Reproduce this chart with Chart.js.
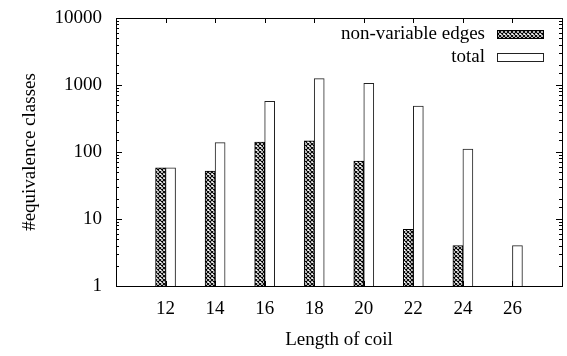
<!DOCTYPE html>
<html>
<head>
<meta charset="utf-8">
<script src="https://cdn.jsdelivr.net/npm/chart.js@4/dist/chart.umd.min.js"></script>
<style>
html,body{margin:0;padding:0;background:#fff;}
#wrap{width:567px;height:356px;position:relative;}
</style>
</head>
<body>
<div id="wrap"><canvas id="c" width="567" height="356"></canvas></div>
<script>
// ---- data ----
const coilLengths = [12, 14, 16, 18, 20, 22, 24, 26];
const nonVariableEdges = [58, 52, 141, 147, 73, 7, 4, 1];
const totalClasses = [58, 138, 571, 1242, 1060, 486, 111, 4];
const yTickValues = [1, 10, 100, 1000, 10000];
const seriesNames = ['non-variable edges', 'total'];
const xTitle = 'Length of coil';
const yTitle = '#equivalence classes';

// padded category axis (10 .. 28) so that 12..26 sit like the original
const labels = ['10'].concat(coilLengths.map(String), ['28']);
const pad = arr => [null].concat(arr, [null]);

// crosshatch pattern
function makeHatch() {
  const c = document.createElement('canvas');
  c.width = 4; c.height = 4;
  const g = c.getContext('2d');
  g.fillStyle = '#fff';
  g.fillRect(0, 0, 4, 4);
  g.strokeStyle = '#000';
  g.lineWidth = 1.1;
  g.beginPath();
  for (let o = -4; o <= 4; o += 4) {
    g.moveTo(o, 0); g.lineTo(o + 4, 4);
    g.moveTo(o + 4, 0); g.lineTo(o, 4);
  }
  g.stroke();
  return document.getElementById('c').getContext('2d').createPattern(c, 'repeat');
}
const hatch = makeHatch();

const FONT = 'Liberation Serif, Times New Roman, serif';
const FS = 19;

const framePlugin = {
  id: 'frame',
  afterDraw(chart) {
    const ctx = chart.ctx;
    const a = chart.chartArea;
    const xs = chart.scales.x, ys = chart.scales.y;
    ctx.save();
    ctx.strokeStyle = '#000';
    ctx.lineWidth = 1;
    ctx.beginPath();
    // y ticks (inward, mirrored)
    ys.ticks.forEach(t => {
      const v = t.value;
      const lg = Math.log10(v);
      const major = Math.abs(lg - Math.round(lg)) < 1e-9;
      const len = major ? 6 : 3;
      const py = Math.round(ys.getPixelForValue(v)) + 0.5;
      ctx.moveTo(a.left, py); ctx.lineTo(a.left + len, py);
      ctx.moveTo(a.right, py); ctx.lineTo(a.right - len, py);
    });
    // x ticks (inward, mirrored)
    for (let i = 1; i <= coilLengths.length; i++) {
      const px = Math.round(xs.getPixelForValue(i)) + 0.5;
      ctx.moveTo(px, a.bottom); ctx.lineTo(px, a.bottom - 5);
      ctx.moveTo(px, a.top); ctx.lineTo(px, a.top + 5);
    }
    ctx.stroke();
    ctx.strokeRect(Math.round(a.left) + 0.5, Math.round(a.top) + 0.5,
                   Math.round(a.right - a.left), Math.round(a.bottom - a.top));
    // legend (gnuplot style: text right-aligned, sample to the right)
    ctx.font = FS + 'px ' + FONT;
    ctx.textAlign = 'right';
    ctx.textBaseline = 'middle';
    const boxR = a.right - 19, boxW = 46, boxH = 8;
    chart.data.datasets.forEach((ds, i) => {
      const cy = 34 + i * 23;
      ctx.fillStyle = '#000';
      ctx.fillText(ds.label, boxR - boxW - 12, cy);
      ctx.fillStyle = ds.backgroundColor;
      ctx.fillRect(boxR - boxW, cy - boxH / 2, boxW, boxH);
      ctx.strokeStyle = ds.borderColor;
      ctx.strokeRect(boxR - boxW + 0.5, Math.round(cy - boxH / 2) + 0.5, boxW, boxH);
    });
    ctx.restore();
  }
};

new Chart(document.getElementById('c'), {
  type: 'bar',
  data: {
    labels: labels,
    datasets: [
      {
        label: seriesNames[0],
        data: pad(nonVariableEdges),
        backgroundColor: hatch,
        borderColor: '#000',
        borderWidth: 1,
        barThickness: 10
      },
      {
        label: seriesNames[1],
        data: pad(totalClasses),
        backgroundColor: '#fff',
        borderColor: '#222',
        borderWidth: 1,
        barThickness: 10
      }
    ]
  },
  options: {
    responsive: false,
    animation: false,
    devicePixelRatio: 1,
    layout: { padding: { left: 0, right: 5, top: 18, bottom: 0 } },
    plugins: {
      legend: { display: false },
      tooltip: { enabled: false }
    },
    scales: {
      x: {
        type: 'category',
        offset: false,
        grid: { display: false, drawTicks: false },
        border: { display: false },
        ticks: {
          autoSkip: false,
          maxRotation: 0,
          padding: 12,
          color: '#000',
          font: { family: FONT, size: FS },
          callback: function (v, i) {
            const l = this.getLabelForValue(v);
            return (i === 0 || i === labels.length - 1) ? '' : l;
          }
        },
        title: {
          display: true,
          text: xTitle,
          color: '#000',
          font: { family: FONT, size: FS },
          padding: { top: 0, bottom: 5 }
        },
        afterFit: s => { s.height = 70; s.paddingLeft = 0; s.paddingRight = 0; }
      },
      y: {
        type: 'logarithmic',
        min: 1,
        max: 10000,
        grid: { display: false, drawTicks: false },
        border: { display: false },
        ticks: {
          autoSkip: false,
          padding: 14,
          color: '#000',
          font: { family: FONT, size: FS },
          callback: v => yTickValues.includes(v) ? String(v) : ''
        },
        title: {
          display: true,
          text: yTitle,
          color: '#000',
          font: { family: FONT, size: FS },
          padding: { top: 19, bottom: 0 }
        },
        afterFit: s => { s.width = 116; s.paddingTop = 0; s.paddingBottom = 0; }
      }
    }
  },
  plugins: [framePlugin]
});
</script>
</body>
</html>
